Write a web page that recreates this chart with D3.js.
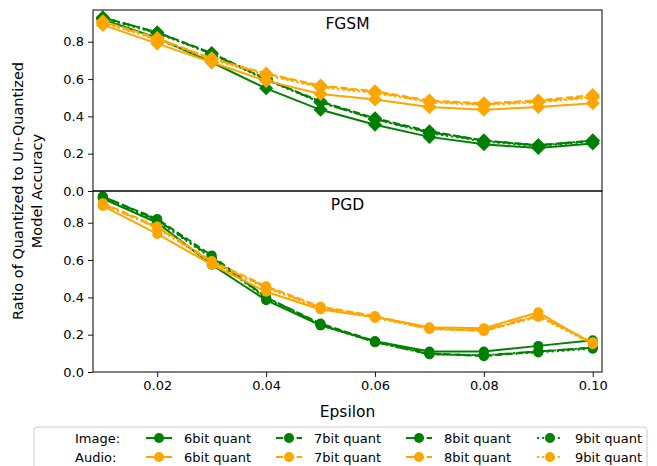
<!DOCTYPE html>
<html>
<head>
<meta charset="utf-8">
<script src="https://cdn.jsdelivr.net/npm/d3@7"></script>
<style>
  body { margin: 0; background: #fff; }
  text { font-family: "DejaVu Sans", sans-serif; fill: #000; }
</style>
</head>
<body>
<div id="chart"></div>
<script>
// x values
const epsilon = [0.01, 0.02, 0.03, 0.04, 0.05, 0.06, 0.07, 0.08, 0.09, 0.10];
const yTicks = [0.0, 0.2, 0.4, 0.6, 0.8];
const xTicks = [0.02, 0.04, 0.06, 0.08, 0.10];

// FGSM - image model
const fgsmImg6 = [0.92, 0.82, 0.69, 0.55, 0.435, 0.355, 0.29, 0.25, 0.23, 0.255];
const fgsmImg7 = [0.93, 0.85, 0.74, 0.60, 0.48, 0.39, 0.32, 0.27, 0.245, 0.27];
const fgsmImg8 = [0.93, 0.85, 0.735, 0.60, 0.475, 0.385, 0.315, 0.27, 0.245, 0.27];
const fgsmImg9 = [0.925, 0.845, 0.735, 0.595, 0.475, 0.385, 0.31, 0.265, 0.24, 0.265];
// FGSM - audio model
const fgsmAud6 = [0.89, 0.79, 0.69, 0.59, 0.52, 0.49, 0.45, 0.435, 0.45, 0.47];
const fgsmAud7 = [0.91, 0.82, 0.71, 0.63, 0.565, 0.535, 0.485, 0.47, 0.485, 0.515];
const fgsmAud8 = [0.905, 0.815, 0.71, 0.625, 0.56, 0.53, 0.48, 0.465, 0.48, 0.505];
const fgsmAud9 = [0.90, 0.81, 0.705, 0.62, 0.555, 0.525, 0.475, 0.46, 0.475, 0.50];

// PGD - image model
const pgdImg6 = [0.93, 0.80, 0.575, 0.385, 0.25, 0.165, 0.11, 0.11, 0.14, 0.17];
const pgdImg7 = [0.94, 0.82, 0.625, 0.40, 0.26, 0.165, 0.10, 0.085, 0.11, 0.13];
const pgdImg8 = [0.94, 0.815, 0.615, 0.40, 0.255, 0.16, 0.095, 0.09, 0.11, 0.13];
const pgdImg9 = [0.935, 0.81, 0.61, 0.395, 0.25, 0.16, 0.095, 0.09, 0.105, 0.125];
// PGD - audio model
const pgdAud6 = [0.89, 0.74, 0.575, 0.43, 0.335, 0.295, 0.24, 0.235, 0.32, 0.15];
const pgdAud7 = [0.905, 0.78, 0.595, 0.46, 0.35, 0.30, 0.235, 0.22, 0.30, 0.16];
const pgdAud8 = [0.90, 0.775, 0.59, 0.455, 0.345, 0.295, 0.23, 0.225, 0.305, 0.155];
const pgdAud9 = [0.90, 0.77, 0.585, 0.45, 0.34, 0.29, 0.23, 0.22, 0.295, 0.15];

const bits = ["6bit quant", "7bit quant", "8bit quant", "9bit quant"];
const rowLabels = ["Image:", "Audio:"];

const green = "#008000";
const orange = "#ffa500";
const dashes = ["none", "7.2,3.1", "12.5,3.1,2,3.1", "2,3.2"];

// chart building
const svgWidth = 657;
const svgHeight = 466;

const margin = { top: 10, right: 55, bottom: 94, left: 93 };
const width = svgWidth - margin.left - margin.right;
const panelH = (svgHeight - margin.top - margin.bottom) / 2;

const svg = d3.select("#chart")
  .append("svg")
  .attr("width", svgWidth)
  .attr("height", svgHeight);

const xScale = d3.scaleLinear()
  .domain([0.0082, 0.1017])
  .range([0, width]);

const panels = [
  { name: "FGSM", marker: "diamond", img: [fgsmImg6, fgsmImg7, fgsmImg8, fgsmImg9], aud: [fgsmAud6, fgsmAud7, fgsmAud8, fgsmAud9] },
  { name: "PGD", marker: "circle", img: [pgdImg6, pgdImg7, pgdImg8, pgdImg9], aud: [pgdAud6, pgdAud7, pgdAud8, pgdAud9] }
];

panels.forEach(function (p, pi) {
  const g = svg.append("g")
    .attr("transform", `translate(${margin.left}, ${margin.top + pi * panelH})`);

  const yScale = d3.scaleLinear()
    .domain([0, 0.97])
    .range([panelH, 0]);

  // y axis
  const yAxis = g.append("g")
    .call(d3.axisLeft(yScale).tickValues(yTicks).tickFormat(d3.format(".1f")).tickSize(5).tickPadding(4));
  yAxis.select(".domain").remove();
  yAxis.selectAll("line").attr("stroke", "#000").attr("stroke-width", 0.9);
  yAxis.selectAll("text").style("font-size", "13px").style("font-family", "DejaVu Sans");

  if (pi === 1) {
    const xAxis = g.append("g")
      .attr("transform", `translate(0, ${panelH})`)
      .call(d3.axisBottom(xScale).tickValues(xTicks).tickFormat(d3.format(".2f")).tickSize(5).tickPadding(4));
    xAxis.select(".domain").remove();
    xAxis.selectAll("line").attr("stroke", "#000").attr("stroke-width", 0.9);
    xAxis.selectAll("text").style("font-size", "13px").style("font-family", "DejaVu Sans");
  }

  const line = d3.line()
    .x((d, i) => xScale(epsilon[i]))
    .y(d => yScale(d));

  const series = [];
  p.img.forEach((vals, k) => series.push({ vals: vals, color: green, dash: dashes[k] }));
  p.aud.forEach((vals, k) => series.push({ vals: vals, color: orange, dash: dashes[k] }));

  series.forEach(function (s) {
    g.append("path")
      .datum(s.vals)
      .attr("d", line)
      .attr("fill", "none")
      .attr("stroke", s.color)
      .attr("stroke-width", 2)
      .attr("stroke-dasharray", s.dash);

    if (p.marker === "circle") {
      g.selectAll(null)
        .data(s.vals)
        .enter()
        .append("circle")
        .attr("cx", (d, i) => xScale(epsilon[i]))
        .attr("cy", d => yScale(d))
        .attr("r", 5)
        .attr("fill", s.color);
    } else {
      const r = 7;
      g.selectAll(null)
        .data(s.vals)
        .enter()
        .append("path")
        .attr("d", function (d, i) {
          const cx = xScale(epsilon[i]), cy = yScale(d);
          return `M${cx},${cy - r}L${cx + r},${cy}L${cx},${cy + r}L${cx - r},${cy}Z`;
        })
        .attr("fill", s.color);
    }
  });

  // panel frame
  g.append("rect")
    .attr("width", width)
    .attr("height", panelH)
    .attr("fill", "none")
    .attr("stroke", "#000")
    .attr("stroke-width", 1);

  g.append("text")
    .attr("x", width / 2)
    .attr("y", 19)
    .attr("text-anchor", "middle")
    .style("font-size", "15.5px")
    .text(p.name);
});

// axis labels
svg.append("text")
  .attr("x", margin.left + width / 2)
  .attr("y", 417)
  .attr("text-anchor", "middle")
  .style("font-size", "15.5px")
  .text("Epsilon");

const yMid = margin.top + panelH;
svg.append("text")
  .attr("transform", `translate(18, ${yMid}) rotate(-90)`)
  .attr("dy", "0.35em")
  .attr("text-anchor", "middle")
  .style("font-size", "14.5px")
  .text("Ratio of Quantized to Un-Quantized");
svg.append("text")
  .attr("transform", `translate(37, ${yMid}) rotate(-90)`)
  .attr("dy", "0.35em")
  .attr("text-anchor", "middle")
  .style("font-size", "14.5px")
  .text("Model Accuracy");

// legend
const legend = svg.append("g");
legend.append("rect")
  .attr("x", 34)
  .attr("y", 427)
  .attr("width", 613)
  .attr("height", 60)
  .attr("rx", 3)
  .attr("fill", "#fff")
  .attr("stroke", "#ccc")
  .attr("stroke-width", 1);

const colX = [159, 289, 419, 550];
const rowY = [438, 457];
const rowColor = [green, orange];

rowLabels.forEach(function (lab, r) {
  legend.append("text")
    .attr("x", 75)
    .attr("y", rowY[r])
    .attr("dy", "0.35em")
    .style("font-size", "13px")
    .text(lab);

  bits.forEach(function (b, k) {
    legend.append("line")
      .attr("x1", colX[k] - 13)
      .attr("x2", colX[k] + 13)
      .attr("y1", rowY[r])
      .attr("y2", rowY[r])
      .attr("stroke", rowColor[r])
      .attr("stroke-width", 2)
      .attr("stroke-dasharray", dashes[k]);
    legend.append("circle")
      .attr("cx", colX[k])
      .attr("cy", rowY[r])
      .attr("r", 5)
      .attr("fill", rowColor[r]);
    legend.append("text")
      .attr("x", colX[k] + 25)
      .attr("y", rowY[r])
      .attr("dy", "0.35em")
      .style("font-size", "13px")
      .text(b);
  });
});
</script>
</body>
</html>
